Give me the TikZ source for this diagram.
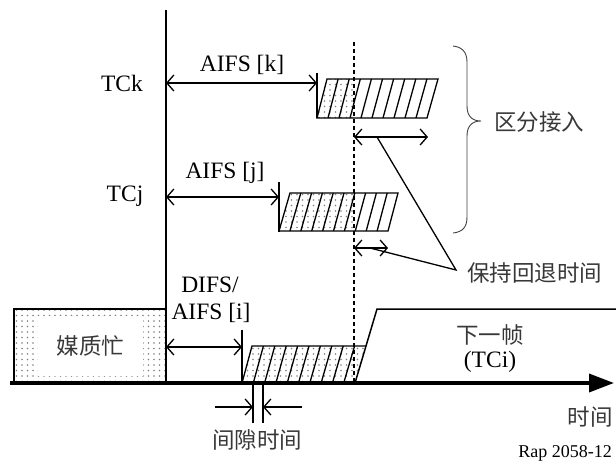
\documentclass[tikz,border=0pt]{standalone}
\usepackage{fontspec}
\setmainfont{Liberation Serif}
\newfontfamily\cjk{Noto Sans CJK SC}
\usetikzlibrary{arrows.meta,patterns.meta}
\tikzset{
  lbl/.style={font=\fontsize{23.5}{26}\selectfont, inner sep=0pt},
  zh/.style={font=\cjk\fontsize{22.5}{26}\selectfont, text=black!78, inner sep=0pt},
  barb/.tip={Straight Barb[length=7pt,width=16pt]},
  dim/.style={line width=1.3pt, barb-barb},
  pointer/.style={line width=1.3pt, -barb},
  stripe/.style={line width=1.3pt},
  dotfill/.style={pattern={Dots[distance=5.5pt,radius=0.9pt]}, pattern color=black!50},
  tick/.style={line width=1.5pt},
}
\begin{document}
\begin{tikzpicture}[x=1pt,y=-1pt]
\useasboundingbox (0,0) rectangle (616,464);

% ---- medium busy box
\coordinate (bz1) at (14,309);
\coordinate (bz2) at (166,383);
\draw[line width=1.3pt, dotfill] (bz1) rectangle (bz2);
\node[zh, fill=white, minimum width=105pt, minimum height=60pt] (busy) at (90.5,346) {媒质忙};

% ---- main vertical line
\coordinate (vtop) at (166,10);
\coordinate (vbot) at (166,383);
\draw[line width=2pt] (vtop) -- (vbot);

% ---- bottom block (TCi)
\coordinate (b1) at (242,383);
\coordinate (b2) at (252,346);
\coordinate (b3) at (366,346);
\coordinate (b4) at (355,383);
\fill[dotfill] (b1) -- (b2) -- (b3) -- (b4) -- cycle;
\foreach \i in {1,...,9}{
  \draw[stripe] (252+11.4*\i,346) -- (242+11.3*\i,383);
}
\draw[stripe] (b1) -- (b2) -- (b3);
\draw[line width=1.5pt] (b4) -- (377,309) -- (616,309);

% ---- DIFS
\coordinate (dt1) at (242,330);
\draw[tick] (dt1) -- (b1);
\coordinate (da) at (166,347);
\coordinate (db) at (242,347);
\draw[dim] (da) -- (db);
\node[lbl] (difs1) at (210,285) {DIFS/};
\node[lbl] (difs2) at (211,313) {AIFS [i]};

% ---- TCk block
\coordinate (kt1) at (317,73);
\coordinate (kt2) at (317,118);
\draw[tick] (kt1) -- (kt2);
\begin{scope}
  \clip (317,118) -- (327,79) -- (438,79) -- (427,118) -- cycle;
  \fill[dotfill] (300,70) rectangle (354,125);
\end{scope}
\draw[stripe] (317,118) -- (327,79) -- (438,79) -- (427,118) -- cycle;
\foreach \i in {1,...,9}{
  \draw[stripe] (327+11.1*\i,79) -- (317+11*\i,118);
}
\coordinate (ka) at (166,83);
\coordinate (kb) at (317,83);
\draw[dim] (ka) -- (kb);
\node[lbl] (aifsk) at (242,65) {AIFS [k]};
\node[lbl] (tck) at (122,83) {TCk};

% ---- TCj block
\coordinate (jt1) at (279,182);
\coordinate (jt2) at (279,232);
\draw[tick] (jt1) -- (jt2);
\begin{scope}
  \clip (279,231) -- (290,193) -- (398,193) -- (388,231) -- cycle;
  \fill[dotfill] (270,185) rectangle (356,240);
\end{scope}
\draw[stripe] (279,231) -- (290,193) -- (398,193) -- (388,231) -- cycle;
\foreach \i in {1,...,9}{
  \draw[stripe] (290+10.8*\i,193) -- (279+10.9*\i,231);
}
\coordinate (ja) at (166,197);
\coordinate (jb) at (279,197);
\draw[dim] (ja) -- (jb);
\node[lbl] (aifsj) at (225,173) {AIFS [j]};
\node[lbl] (tcj) at (125,196) {TCj};

% ---- dashed line
\coordinate (dsh1) at (354,42);
\coordinate (dsh2) at (354,383);
\draw[line width=1.5pt, dash pattern=on 4pt off 3pt] (dsh1) -- (dsh2);

% ---- backoff hold arrows
\coordinate (hk1) at (354,137);
\coordinate (hk2) at (428,137);
\draw[dim] (hk1) -- (hk2);
\coordinate (hj1) at (354,248);
\coordinate (hj2) at (388,248);
\draw[dim] (hj1) -- (hj2);
\coordinate (hkp) at (377,137);
\coordinate (hjp) at (370,248);
\coordinate (hv) at (456,270);
\draw[line width=1.3pt] (hkp) -- (hv) -- (hjp);
\node[zh, anchor=west] (hold) at (467,273) {保持回退时间};

% ---- brace
\coordinate (br0) at (453,46);
\coordinate (brtip) at (481,121);
\coordinate (br1) at (453,233);
\draw[line width=0.9pt, black!75] (br0) .. controls (462,47) and (467,52) .. (467,62)
  -- (467,106) .. controls (467,116) and (472,121) .. (brtip)
  .. controls (472,121) and (467,126) .. (467,136)
  -- (467,217) .. controls (467,228) and (462,232) .. (br1);
\node[zh] (diff) at (539,122) {区分接入};

% ---- slot time
\coordinate (s1a) at (253,383);
\coordinate (s1b) at (253,423);
\coordinate (s2a) at (263,383);
\coordinate (s2b) at (263,423);
\draw[tick] (s1a) -- (s1b);
\draw[tick] (s2a) -- (s2b);
\coordinate (sl) at (215,407);
\coordinate (sli) at (253,407);
\coordinate (sr) at (302,407);
\coordinate (sri) at (263,407);
\draw[pointer] (sl) -- (sli);
\draw[pointer] (sr) -- (sri);
\node[zh] (slot) at (257,440) {间隙时间};

% ---- next frame
\node[zh] (next) at (490,335) {下一帧};
\node[lbl] (tci) at (490,362) {(TCi)};

% ---- time axis
\coordinate (ax0) at (10,383);
\coordinate (ax1) at (614,383);
\draw[line width=3.5pt, -{Triangle[length=25pt,width=18pt]}] (ax0) -- (ax1);
\node[zh] (time) at (590,417) {时间};
\node[font=\fontsize{18}{20}\selectfont, inner sep=0pt] (rap) at (565,453) {Rap 2058-12};
\end{tikzpicture}
\end{document}
